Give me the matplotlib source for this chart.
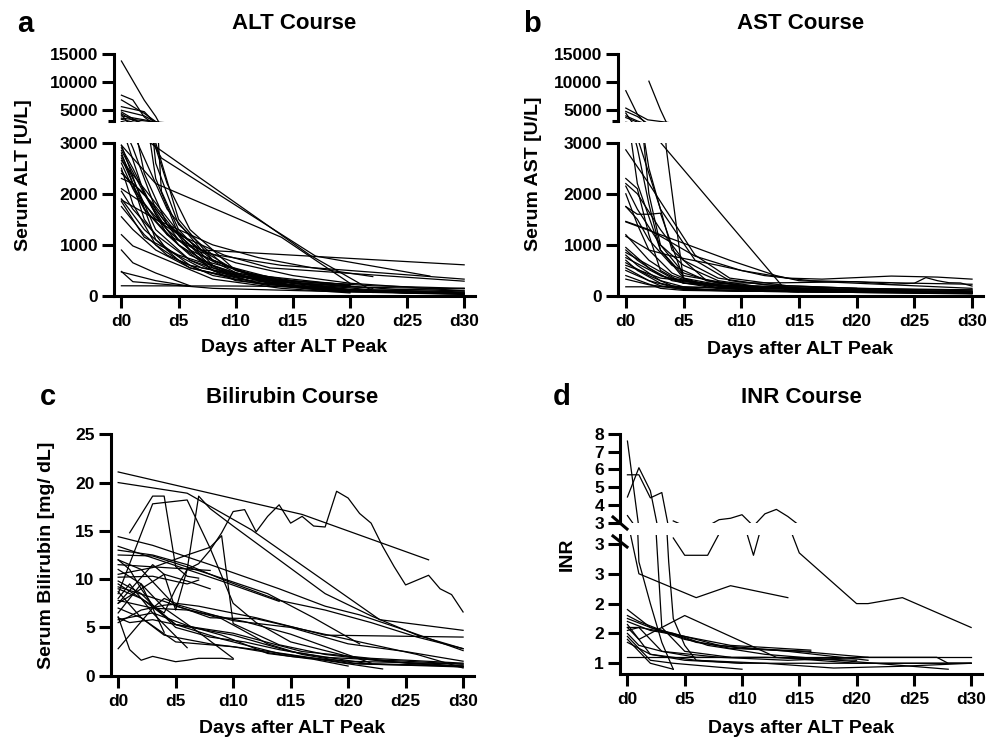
import matplotlib
matplotlib.use('Agg')
import matplotlib.pyplot as plt
from matplotlib.lines import Line2D

plt.rcParams['font.family'] = ['Liberation Sans', 'DejaVu Sans']
plt.rcParams['font.weight'] = 'bold'

# x axis: days after ALT peak
day_ticks = [0, 5, 10, 15, 20, 25, 30]
day_labels = ['d0', 'd5', 'd10', 'd15', 'd20', 'd25', 'd30']

# one list of (day, value) per patient
alt_courses = [
    [(0, 13800), (1, 10300), (2, 6800), (3, 3900), (3.5, 2050), (5, 1300), (8, 600), (12, 300), (18, 120), (25, 60), (30, 40)],
    [(0, 7700), (1, 6850), (2, 3800), (3, 2300), (5, 1200), (8, 550), (13, 250), (20, 100)],
    [(0, 6850), (2, 4450), (3, 3000), (5, 1500), (8, 700), (12, 350), (16, 150), (22, 80), (30, 50)],
    [(0, 5650), (2, 4750), (3, 2600), (5, 1400), (9, 600), (15, 250), (22, 120), (30, 80)],
    [(0, 5000), (1, 4500), (2, 4000), (3, 2900), (4, 2200), (6, 1300), (10, 500), (15, 200), (20, 80)],
    [(0, 4700), (1, 3500), (2, 2400), (4, 1400), (7, 800), (12, 330), (20, 130), (30, 60)],
    [(0, 4400), (1, 3200), (2, 2700), (4, 1700), (7, 900), (10, 500), (15, 250)],
    [(0, 4200), (0.5, 3000), (2, 2000), (4, 1200), (6, 800), (9, 500), (14, 280), (20, 180)],
    [(0, 4000), (2, 3300), (3.5, 2700), (17, 780), (27, 390)],
    [(0, 3600), (2.5, 3000), (16.5, 800), (22, 100), (30, 60)],
    [(0, 3400), (1, 2900), (3, 1700), (5, 1100), (7, 900), (30, 610)],
    [(0, 2950), (3, 2200), (14, 1150), (20, 250), (30, 100)],
    [(0, 2900), (1, 2500), (3, 1600), (5, 1000), (8, 500), (12, 250), (20, 80), (30, 30)],
    [(0, 2850), (2, 2000), (4, 1400), (7, 900), (10, 650), (15, 400), (20, 250)],
    [(0, 2750), (1, 2300), (3, 1300), (6, 700), (10, 300), (18, 100), (30, 40)],
    [(0, 2700), (2, 1700), (4, 1200), (7, 850), (14, 600), (30, 330)],
    [(0, 2600), (1, 2100), (2, 1700), (5, 1000), (9, 450), (14, 200), (25, 60)],
    [(0, 2450), (3, 1500), (5, 1200), (9, 800), (13, 550), (30, 290)],
    [(0, 2400), (2, 2000), (4, 1300), (8, 500), (12, 250), (22, 70)],
    [(0, 2300), (1, 2200), (3, 1750), (6, 900), (11, 350), (20, 120), (30, 50)],
    [(0, 2100), (2, 1800), (4, 1300), (7, 700), (12, 400), (20, 210)],
    [(0, 2050), (1, 1700), (3, 1200), (6, 700), (10, 400), (15, 200)],
    [(0, 1900), (2, 1300), (5, 700), (8, 400), (13, 200), (20, 80)],
    [(0, 1750), (2, 1200), (4, 800), (7, 500), (12, 260), (20, 100), (30, 150)],
    [(0, 1550), (1, 1300), (3, 900), (6, 550), (10, 330), (20, 120)],
    [(0, 1200), (1, 980), (4, 700), (8, 330), (14, 150), (20, 60)],
    [(0, 900), (1, 650), (3, 450), (6, 200)],
    [(0, 480), (1, 280), (8, 150), (18, 90), (30, 50)],
    [(0, 470), (3, 300), (6, 190)],
    [(0, 200), (10, 195), (20, 175), (30, 140)],
    [(0, 2950), (3, 1100), (6, 600), (10, 420), (15, 250), (20, 200)],
    [(0, 2800), (1, 2200), (2, 1500), (4, 900), (7, 550), (11, 380), (16, 280), (22, 200), (30, 150)],
    [(0, 2500), (1, 1800), (3, 1000), (6, 550), (9, 400), (14, 300), (20, 230)],
    [(0, 1850), (1, 1500), (2, 1150), (5, 800), (10, 450), (16, 250), (24, 130), (30, 100)],
    [(0, 2650), (2, 2100), (5, 1250), (8, 700), (11, 450), (15, 300), (22, 150)],
    [(0, 1880), (3, 1500), (8, 1000), (12, 750), (16.5, 560), (22, 380)],
]

ast_courses = [
    [(0, 8500), (1, 4300), (2, 2000), (3, 1000), (5, 450), (8, 250), (14, 150), (20, 100), (30, 70)],
    [(2, 10200), (3, 5100), (3.5, 2900), (5, 300), (8, 150), (15, 80), (30, 50)],
    [(0, 5400), (1.9, 3300), (13.8, 130), (20, 80), (30, 50)],
    [(0, 4800), (1, 3900), (2, 2500), (4, 900), (7, 300), (12, 150)],
    [(0, 4500), (0.5, 3000), (1, 2200), (3, 900), (5, 400), (10, 200), (20, 120), (30, 80)],
    [(0, 4000), (1, 3100), (3, 1700), (6, 700), (9, 300), (15, 150)],
    [(0, 3700), (1, 2900), (2, 1800), (3, 900), (5, 350), (9, 180), (16, 120), (30, 90)],
    [(0, 2860), (2, 2200), (4, 1500), (6, 800), (9, 350), (14, 200), (20, 150), (30, 100)],
    [(0, 2300), (1, 2100), (2, 1200), (3, 500), (5, 250), (10, 150), (30, 60)],
    [(0, 1750), (1, 1600), (2, 1600), (3, 1620), (5, 350), (8, 150), (15, 80)],
    [(0, 2200), (1, 2000), (3, 1300), (5, 700), (8, 350), (12, 220), (20, 150)],
    [(0, 1460), (2, 1300), (6, 780), (10, 500), (14, 350), (17, 330), (23, 390), (27, 370), (30, 330)],
    [(0, 600), (3, 350), (7, 250), (14, 260), (20, 280), (23, 230), (24, 240), (25, 250), (26, 360), (27, 300), (28, 260), (29, 255), (30, 195)],
    [(0, 1200), (2, 700), (4, 400), (6, 250), (10, 180), (20, 120), (30, 80)],
    [(0, 900), (1, 700), (3, 400), (5, 250), (10, 200), (20, 150), (30, 120)],
    [(0, 850), (2, 600), (4, 350), (8, 200), (14, 150)],
    [(0, 800), (1, 600), (3, 300), (5, 180), (8, 150), (15, 100), (30, 50)],
    [(0, 750), (3, 400), (5, 280), (9, 200), (15, 130), (22, 100)],
    [(0, 700), (1, 500), (3, 250), (5, 150), (10, 100), (20, 70), (30, 40)],
    [(0, 650), (2, 400), (4, 200), (7, 120), (12, 90), (30, 60)],
    [(0, 550), (2, 300), (4, 180), (6, 120), (10, 90)],
    [(0, 500), (1, 400), (3, 200), (5, 130), (10, 100), (25, 80)],
    [(0, 400), (3, 150), (5, 110), (8, 100), (20, 70), (30, 60)],
    [(0, 330), (2, 220), (5, 130), (12, 90), (30, 70)],
    [(0, 180), (4, 180), (10, 160), (20, 130), (30, 120)],
    [(0, 1750), (1, 1500), (2, 1100), (4, 600), (7, 300), (10, 200)],
    [(0, 2150), (1, 1700), (3, 1000), (5, 600), (8, 300), (11, 200)],
    [(0, 1450), (3, 1200), (6, 950), (9, 700), (13, 400), (15, 300), (20, 250), (30, 150)],
    [(0, 1170), (2, 900), (4, 780), (8, 600), (12, 400), (16, 300), (25, 250), (30, 230)],
    [(0, 2000), (1, 1400), (2, 900), (4, 450), (6, 250), (10, 150)],
    [(0, 950), (2, 550), (4, 300), (7, 180), (12, 120), (20, 90), (30, 70)],
]

bili_courses = [
    [(0, 21.1), (16, 16.7), (27, 12.0)],
    [(0, 20.0), (6, 18.9), (11.6, 15.1), (22.75, 5.8), (30, 4.7)],
    [(0, 7.5), (2, 9.0), (4, 10.5), (5, 6.8), (6, 11.0), (7, 11.6), (8, 13.0), (9, 14.8), (10, 17.0), (11, 17.2), (12, 14.9),
     (13, 16.5), (14, 17.7), (15, 15.8), (16, 16.5), (17, 15.5), (18, 15.4), (19, 19.1), (20, 18.4), (21, 16.8), (22, 15.8),
     (23, 13.4), (24, 11.3), (25, 9.4), (26, 9.9), (27, 10.4), (28, 9.0), (29, 8.4), (30, 6.6)],
    [(0, 9.5), (2, 8.0), (4, 6.5), (5, 9.0), (6, 11.0), (7, 18.6), (8, 17.3), (10, 15.5), (14, 12.0), (18, 8.5), (22, 6.2), (26, 4.2), (30, 2.8)],
    [(1, 14.8), (3, 18.6), (4, 18.6), (5, 11.3), (6, 10.3), (7, 10.1)],
    [(0, 8.5), (3, 17.8), (6, 18.2), (8, 13.2), (10, 7.5), (12, 5.5), (15, 3.5), (20, 2.0), (25, 1.3), (30, 0.9)],
    [(0, 10.5), (3, 11.2), (6, 12.5), (8, 13.3), (9, 14.5), (10, 5.4), (12, 4.3), (14, 3.2), (18, 2.2), (23, 1.5), (30, 1.0)],
    [(0, 14.4), (3, 13.5), (8, 11.5), (14, 9.0), (18, 7.2), (21, 6.3), (25, 4.7), (30, 2.6)],
    [(0, 13.4), (4, 11.8), (9, 9.8), (14, 7.7)],
    [(0, 12.5), (3, 12.4), (8, 10.5), (13, 8.5), (17, 6.0), (21, 3.3)],
    [(0, 11.5), (4, 11.2), (8, 10.9)],
    [(0, 10.2), (3, 10.3), (6, 9.5), (7, 9.9)],
    [(0, 6.1), (1, 2.7), (2, 1.6), (3, 2.0), (5, 1.45), (6, 1.6), (7, 1.8), (9, 1.8), (10, 1.7)],
    [(0, 2.8), (3, 7.0), (4, 8.0), (5, 7.5), (7, 7.2), (12, 6.0), (18, 4.2), (30, 4.0)],
    [(0, 7.0), (2, 6.0), (4, 4.2), (8, 3.3), (12, 2.7), (20, 1.3), (30, 1.0)],
    [(0, 9.0), (2, 8.0), (5, 5.3), (10, 4.2), (15, 2.5), (22, 1.2), (30, 0.9)],
    [(0, 8.0), (1, 9.5), (3, 6.5), (6, 2.9)],
    [(0, 6.5), (2, 9.5), (4, 4.5)],
    [(0, 7.5), (3, 11.5), (4, 10.5), (6, 9.8), (8, 9.0)],
    [(0, 12.0), (1, 11.0), (2, 9.0), (3, 7.3), (5, 5.3), (9, 3.8), (14, 2.3), (23, 0.7)],
    [(0, 5.5), (2, 6.8), (4, 7.3), (5, 7.4), (10, 5.7), (15, 5.0), (20, 3.3), (25, 2.5), (30, 1.5)],
    [(0, 5.8), (3, 6.5), (6, 5.2), (9, 4.2), (13, 2.3), (17, 1.7), (20, 1.0)],
    [(0, 9.8), (2, 8.5), (5, 5.0), (8, 4.0), (11, 3.5), (14, 2.7), (18, 1.9), (25, 1.5), (30, 1.2)],
    [(0, 11.0), (2, 9.5), (4, 7.0), (7, 4.5), (10, 1.8)],
    [(0, 12.0), (2, 11.0), (5, 7.2), (9, 5.9), (13, 3.3), (16, 2.2), (21, 1.2), (30, 1.0)],
    [(0, 9.2), (4, 7.7), (8, 6.0), (12, 5.9), (16, 4.8), (21, 3.5), (26, 2.2), (30, 0.8)],
    [(0, 13.0), (3, 12.5), (6, 11.5), (9, 10.0), (14, 7.8), (18, 6.8), (22, 5.5), (26, 4.0), (30, 2.8)],
    [(0, 7.8), (3, 7.0), (6, 6.8), (11, 5.6), (15, 4.3), (22, 1.3)],
    [(0, 8.7), (2, 6.0), (5, 3.5), (10, 3.0), (15, 2.0), (20, 1.5), (30, 1.2)],
    [(0, 6.0), (1, 5.5), (3, 5.8), (5, 5.3), (10, 4.4), (16, 2.5), (22, 1.8), (30, 1.3)],
]

inr_courses = [
    [(0, 7.6), (1, 2.7), (2, 2.0), (3, 1.35), (4, 0.9)],
    [(0, 5.7), (1, 5.7), (2, 4.4), (3, 4.7), (3.6, 2.7), (4, 1.75), (5, 1.3), (6, 1.05), (10, 1.0)],
    [(0, 4.45), (1, 6.1), (2, 4.8), (3, 1.6), (5, 1.2), (9, 1.1)],
    [(0, 3.4), (1, 2.5), (6, 2.1), (9, 2.3), (14, 2.1)],
    [(4, 3.1), (5, 2.81), (7, 2.81), (8, 3.17), (9, 3.25), (10, 3.45), (11, 2.81), (12, 3.5), (13, 3.75), (14, 3.35),
     (15, 2.85), (20, 2.0), (21, 2.0), (24, 2.1), (30, 1.6)],
    [(0, 1.9), (2, 1.6), (5, 1.4), (9, 1.25), (15, 1.2), (21, 1.1)],
    [(0, 1.8), (1, 1.7), (3, 1.55), (6, 1.35), (10, 1.25), (16, 1.2)],
    [(0, 1.7), (2, 1.55), (5, 1.45), (8, 1.3), (14, 1.2), (21, 1.05)],
    [(0, 1.6), (1, 1.4), (5, 1.8), (13, 1.1), (20, 1.0), (30, 1.0)],
    [(0, 1.55), (1, 1.6), (4, 1.5), (7, 1.3), (12, 1.15), (28, 0.9)],
    [(0, 1.45), (2, 1.05), (4, 1.0), (10, 0.9)],
    [(0, 1.4), (1, 1.2), (2, 1.0), (4, 0.9)],
    [(0, 1.11), (30, 1.11)],
    [(0, 1.65), (2, 1.15), (5, 1.05), (10, 1.0), (20, 1.0), (30, 1.0)],
    [(0, 1.35), (2, 1.15), (6, 1.05), (12, 1.0), (18, 0.92), (24, 0.95), (30, 1.0)],
    [(0, 1.75), (2, 1.6), (5, 1.45), (9, 1.3), (16, 1.22)],
    [(0, 1.5), (1, 1.3), (3, 1.2), (8, 1.1), (14, 1.05), (21, 1.1), (27, 1.1), (28, 1.0), (30, 1.0)],
    [(0, 1.6), (1, 1.6), (3, 1.2), (6, 1.1), (12, 1.1), (20, 1.05)],
]

W, H = 1000, 737
fig = plt.figure(figsize=(10, 7.37), dpi=100)

LW = 2.2


def px_axes(l, t, r, b):
    # place an axes by its pixel box (left, top, right, bottom)
    return fig.add_axes([l / W, 1 - b / H, (r - l) / W, (b - t) / H])


def draw(ax, courses):
    for c in courses:
        ax.plot([p[0] for p in c], [p[1] for p in c], color='black', lw=0.9)


def style(ax, bottom=True):
    ax.set_xlim(-0.65, 30.95)
    ax.patch.set_visible(False)
    for s in ['top', 'right']:
        ax.spines[s].set_visible(False)
    ax.spines['left'].set_linewidth(LW)
    ax.tick_params(axis='both', width=LW, length=8.5, labelsize=12.5)
    ax.tick_params(axis='y', pad=3)
    ax.tick_params(axis='x', pad=4.5)
    if bottom:
        ax.spines['bottom'].set_linewidth(LW)
        ax.set_xticks(day_ticks, day_labels)
    else:
        ax.spines['bottom'].set_visible(False)
        ax.set_xticks([])


def broken_enzyme(left, right, courses):
    top = px_axes(left, 54.3, right, 121.5)
    bot = px_axes(left, 142.7, right, 296)
    for ax in (top, bot):
        draw(ax, courses)
    style(top, bottom=False)
    style(bot)
    top.set_ylim(3000, 15000)
    top.set_yticks([5000, 10000, 15000])
    top.set_yticks([3000], minor=True)
    top.tick_params(axis='y', which='minor', length=4, width=LW)
    bot.set_ylim(0, 3000)
    bot.set_yticks([0, 1000, 2000, 3000])
    return top, bot


# a / b
broken_enzyme(114, 475, alt_courses)
broken_enzyme(618.3, 983, ast_courses)

# c
c_ax = px_axes(110.7, 434.3, 474, 675.7)
draw(c_ax, bili_courses)
style(c_ax)
c_ax.set_ylim(0, 25)
c_ax.set_yticks([0, 5, 10, 15, 20, 25])

# d
d_top = px_axes(620, 434, 982, 522.7)
d_bot = px_axes(620, 535, 982, 674)
for ax in (d_top, d_bot):
    draw(ax, inr_courses)
style(d_top, bottom=False)
style(d_bot)
d_top.set_ylim(3, 8)
d_top.set_yticks([3, 4, 5, 6, 7, 8])
d_bot.set_ylim(0.82, 3.15)
inr_low_ticks = [1.0, 1.5, 2.0, 2.5, 3.0]
d_bot.set_yticks(inr_low_ticks, [str(int(v + 0.5)) for v in inr_low_ticks])

for y0, y1 in [(517, 529), (536, 547)]:
    fig.add_artist(Line2D([613 / W, 627 / W], [1 - y0 / H, 1 - y1 / H], color='black', lw=LW))

# texts
def ftext(x, y, s, **kw):
    fig.text(x / W, 1 - y / H, s, **kw)

for x, y, s in [(294.5, 29.3, 'ALT Course'), (800.5, 29.3, 'AST Course'),
                (292.3, 403.3, 'Bilirubin Course'), (801, 403.3, 'INR Course')]:
    ftext(x, y, s, ha='center', va='baseline', fontsize=16, weight='bold')

for x, y, s in [(17, 31.7, 'a'), (522.7, 31.7, 'b'), (40, 405, 'c'), (552.7, 405, 'd')]:
    ftext(x, y, s, ha='left', va='baseline', fontsize=21, weight='bold')

for x, y in [(294.5, 352), (800.5, 354), (292.3, 733), (801, 733)]:
    ftext(x, y, 'Days after ALT Peak', ha='center', va='baseline', fontsize=14, weight='bold')

for x, y, s in [(24, 175, 'Serum ALT [U/L]'), (534, 174, 'Serum AST [U/L]'),
                (47, 555, 'Serum Bilirubin [mg/ dL]'), (567, 554, 'INR')]:
    ftext(x, y, s, ha='center', va='center', rotation=90, fontsize=14, weight='bold')

fig.savefig('out.png', dpi=100)
